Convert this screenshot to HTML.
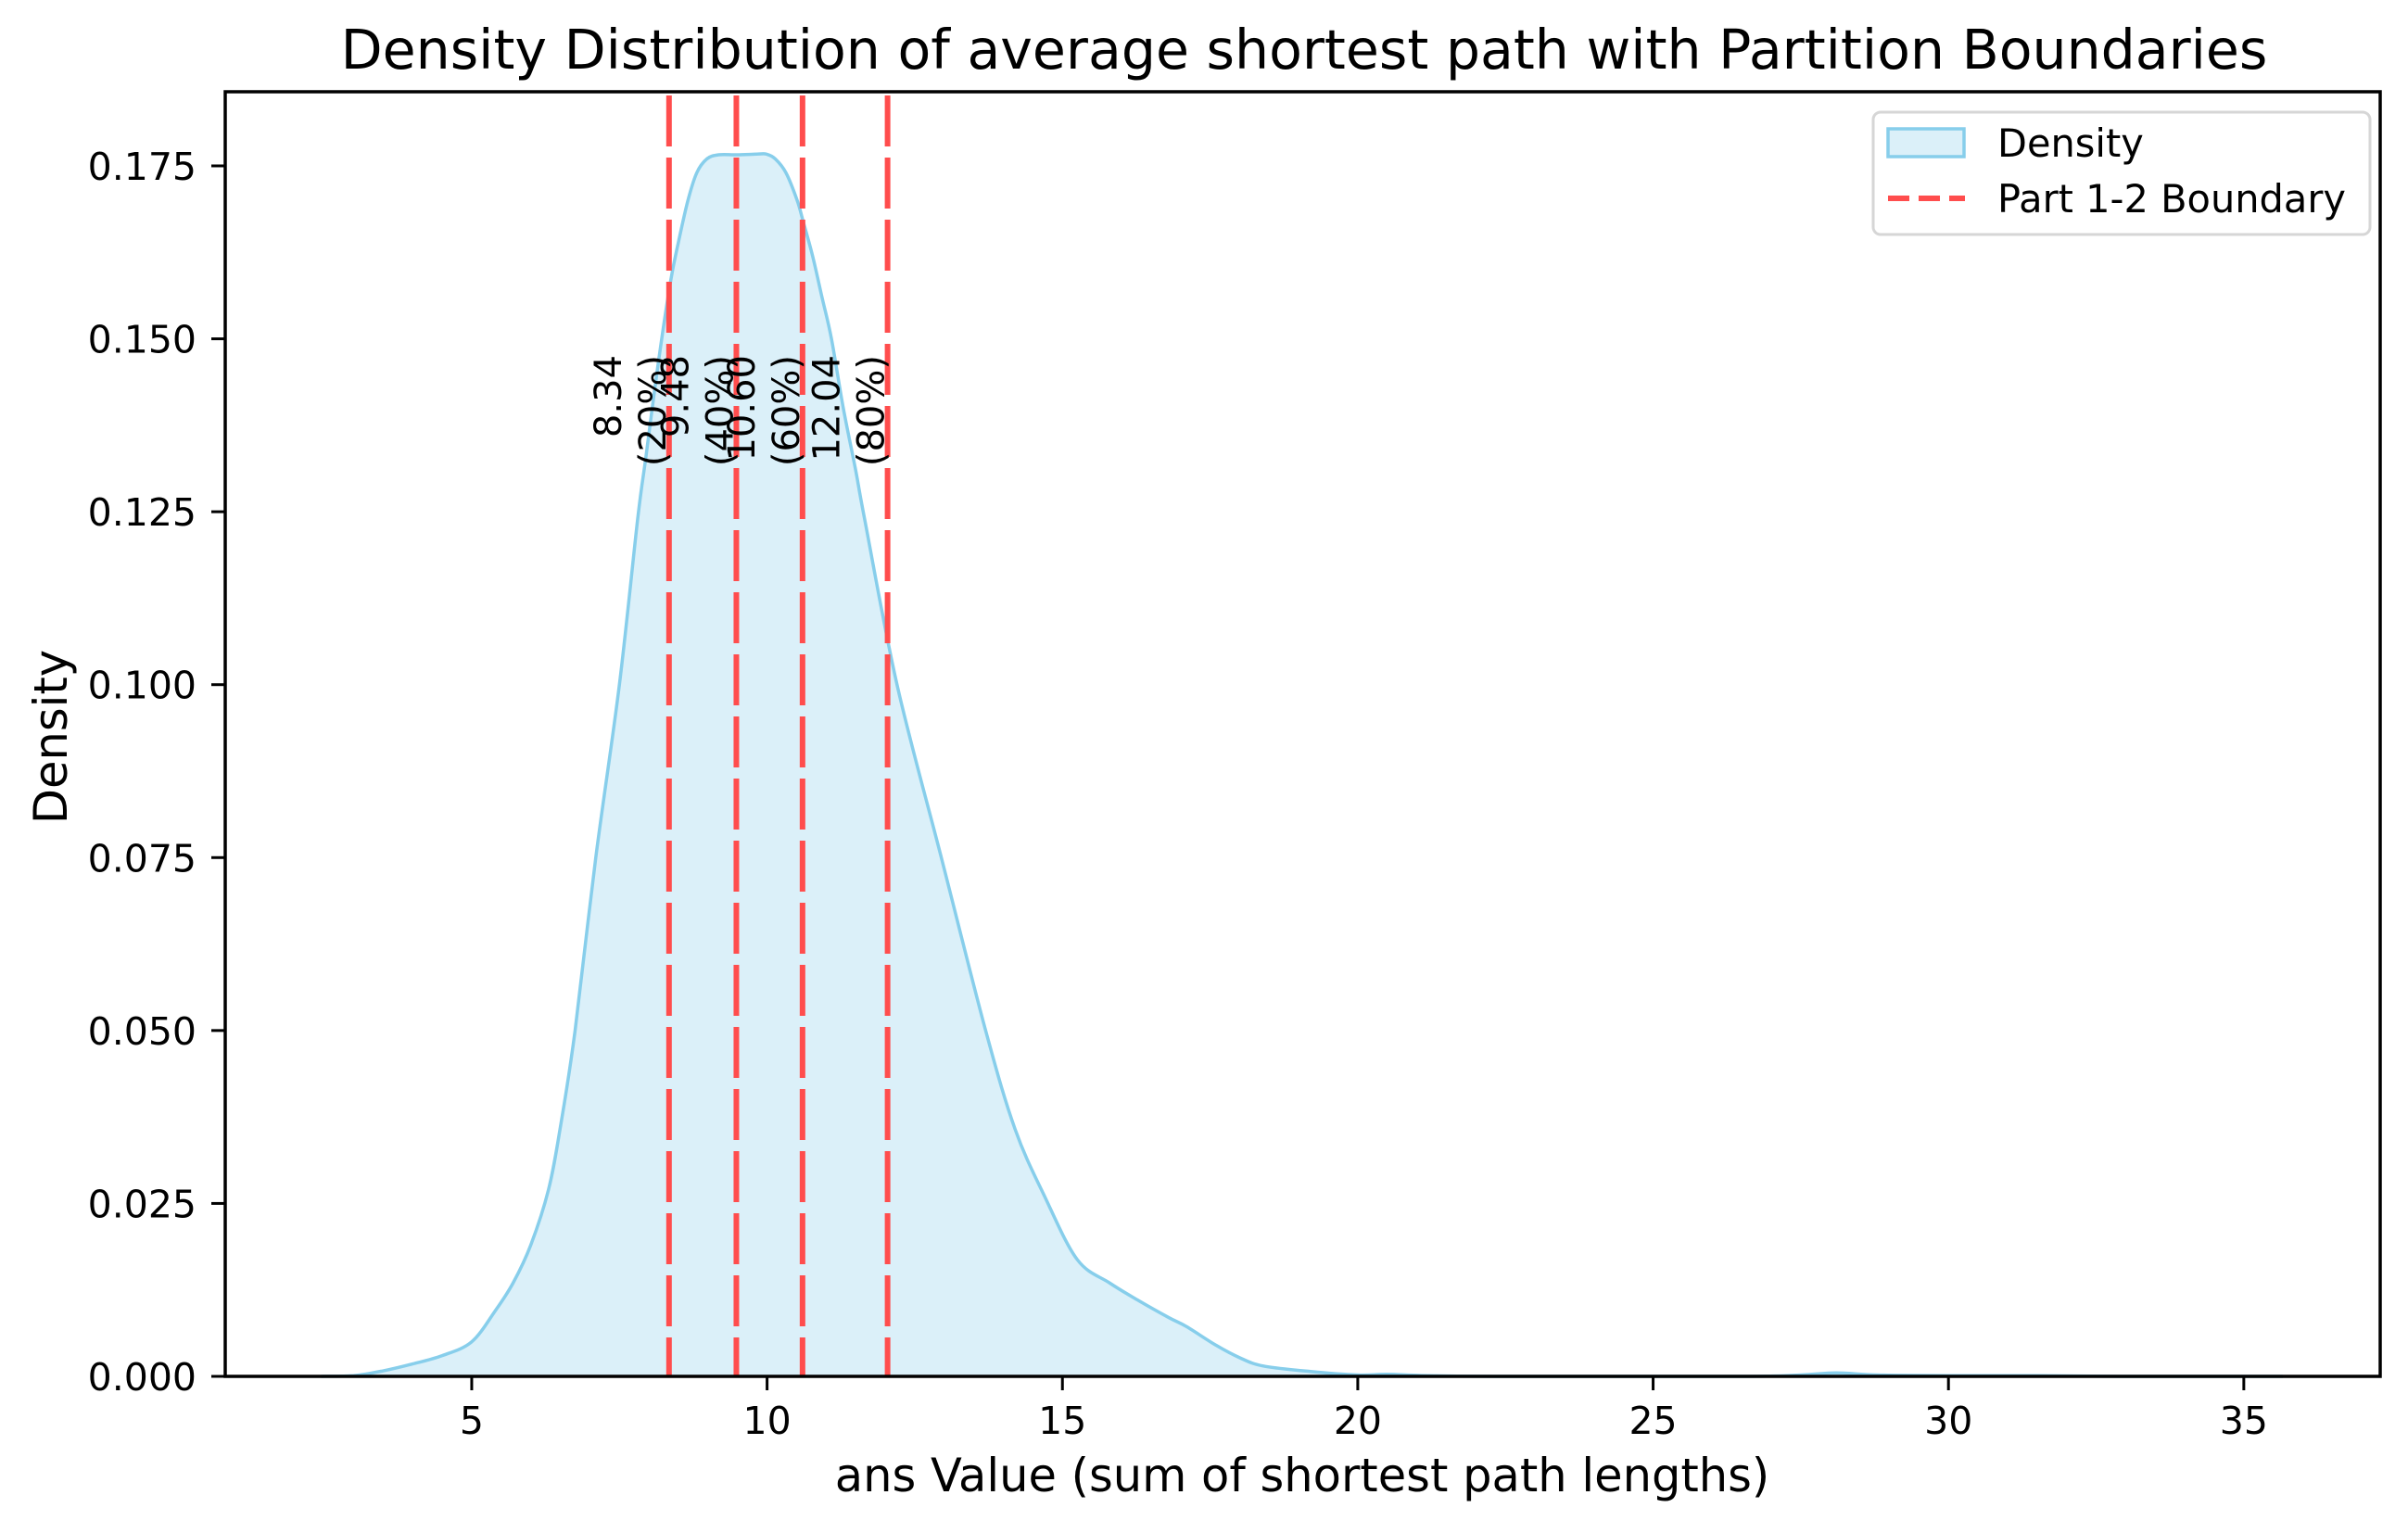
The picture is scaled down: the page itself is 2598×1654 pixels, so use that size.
<!DOCTYPE html>
<html><head><meta charset="utf-8"><style>
html,body{margin:0;padding:0;background:#fff;}
svg text{font-family:"DejaVu Sans","Liberation Sans",sans-serif;fill:#000;}
</style></head><body>
<svg id="chart" width="2598" height="1649" viewBox="0 0 2598 1649" xmlns="http://www.w3.org/2000/svg">
<rect width="2598" height="1649" fill="#fff"/>
<g id="plot"></g>
</svg>
<script>
const xs = [2.45,3.0,3.5,4.0,4.5,5.0,5.4,5.7,6.0,6.3,6.5,6.75,7.1,7.5,7.81,7.95,8.15,8.36,8.5,8.66,8.81,8.98,9.18,9.49,9.83,9.99,10.14,10.32,10.51,10.61,10.77,10.93,11.09,11.29,11.5,11.65,12.2,12.95,13.7,14.2,14.7,15.25,15.8,16.3,16.8,17.1,17.6,18.0,18.4,19.2,20.0,20.5,21.2,22.5,26.5,27.5,28.1,28.8,30,31.5,33,35.66];
const ys = [0,0.0001,0.0008,0.0018,0.003,0.005,0.0095,0.0135,0.019,0.027,0.036,0.05,0.075,0.1,0.124,0.133,0.146,0.158,0.164,0.170,0.174,0.176,0.1766,0.1766,0.1767,0.1767,0.176,0.174,0.170,0.167,0.162,0.156,0.150,0.140,0.131,0.124,0.1,0.075,0.05,0.0357,0.026,0.0169,0.0135,0.0109,0.0085,0.0072,0.0045,0.0027,0.0015,0.0007,0.0002,0.0003,0.0001,0,0,0.0002,0.0005,0.0002,0.0001,0.0001,0,0];
const boundaries = [8.34,9.48,10.60,12.04];
const boundaryPct = ["(20%)","(40%)","(60%)","(80%)"];
const xTicks = [5,10,15,20,25,30,35];
const yTicks = [0,0.025,0.05,0.075,0.1,0.125,0.15,0.175];
const yTickLabels = ["0.000","0.025","0.050","0.075","0.100","0.125","0.150","0.175"];

const L=243,R=2568,T=99,B=1485;
const X0=190.3, XS=63.73, YS=7463;
function sx(v){return X0+v*XS;}
function sy(v){return B-v*YS;}
const NS="http://www.w3.org/2000/svg";
const g=document.getElementById('plot');
function mk(tag,attrs,parent){const e=document.createElementNS(NS,tag);for(const k in attrs)e.setAttribute(k,attrs[k]);(parent||g).appendChild(e);return e;}

const pts=xs.map((x,i)=>[sx(x),sy(ys[i])]);
let d="M"+pts[0][0]+","+pts[0][1];
for(let i=0;i<pts.length-1;i++){
  const p0=pts[Math.max(0,i-1)],p1=pts[i],p2=pts[i+1],p3=pts[Math.min(pts.length-1,i+2)];
  const c1=[p1[0]+(p2[0]-p0[0])/6,p1[1]+(p2[1]-p0[1])/6];
  const c2=[p2[0]-(p3[0]-p1[0])/6,p2[1]-(p3[1]-p1[1])/6];
  d+=" C"+c1[0]+","+Math.min(B,c1[1])+" "+c2[0]+","+Math.min(B,c2[1])+" "+p2[0]+","+p2[1];
}
const fill=mk('path',{d:d+" L"+pts[pts.length-1][0]+","+B+" L"+pts[0][0]+","+B+" Z",fill:"#87CEEB","fill-opacity":"0.3",stroke:"none"});


const line=mk('path',{d:d,fill:"none",stroke:"#87CEEB","stroke-width":"3.5"});



boundaries.forEach((b,i)=>{
  const l=mk('line',{x1:sx(b),x2:sx(b),y1:T+4,y2:B,stroke:"#FF4D4D","stroke-width":"6","stroke-dasharray":"55 12"});
  
  
  const t1=mk('text',{transform:"translate("+(sx(b)-52)+",383) rotate(-90)","text-anchor":"end","font-size":"40"});
  t1.textContent=b.toFixed(2);
  
  
  const t2=mk('text',{transform:"translate("+(sx(b)-4)+",383) rotate(-90)","text-anchor":"end","font-size":"40"});
  t2.textContent=boundaryPct[i];
  
  
});

const fr=mk('rect',{x:L,y:T,width:R-L,height:B-T,fill:"none",stroke:"#000","stroke-width":"3.5"});



xTicks.forEach(v=>{
  const tk=mk('line',{x1:sx(v),x2:sx(v),y1:B,y2:B+15,stroke:"#000","stroke-width":"3"});
  
  
  const t=mk('text',{x:sx(v),y:1547,"text-anchor":"middle","font-size":"41"});
  t.textContent=v;
  
  
});
yTicks.forEach((v,i)=>{
  const tk=mk('line',{x1:L-15,x2:L,y1:sy(v),y2:sy(v),stroke:"#000","stroke-width":"3"});
  
  
  const t=mk('text',{x:212,y:sy(v)+15,"text-anchor":"end","font-size":"41"});
  t.textContent=yTickLabels[i];
  
  
});

const title=mk('text',{x:1407,y:74,"text-anchor":"middle","font-size":"58.5"});
title.textContent="Density Distribution of average shortest path with Partition Boundaries";


const xl=mk('text',{x:1405,y:1609,"text-anchor":"middle","font-size":"49.5"});
xl.textContent="ans Value (sum of shortest path lengths)";


const yl=mk('text',{transform:"translate(72,795) rotate(-90)","text-anchor":"middle","font-size":"49.5"});
yl.textContent="Density";



const lg=mk('g',{});


mk('rect',{x:2021,y:121,width:536,height:132,rx:8,fill:"#fff","fill-opacity":"0.8",stroke:"#d6d6d6","stroke-width":"3"},lg);
const lp=mk('rect',{x:2037,y:139,width:82,height:30,fill:"#DBF0F9",stroke:"#87CEEB","stroke-width":"3.5"},lg);


const ld=mk('text',{x:2155,y:169,"font-size":"41.5"},lg);
ld.textContent="Density";


const ll=mk('line',{x1:2037,x2:2120,y1:214,y2:214,stroke:"#FF4D4D","stroke-width":"6","stroke-dasharray":"23 10"},lg);


const lt=mk('text',{x:2155,y:229,"font-size":"41.5"},lg);
lt.textContent="Part 1-2 Boundary";


</script>
</body></html>
